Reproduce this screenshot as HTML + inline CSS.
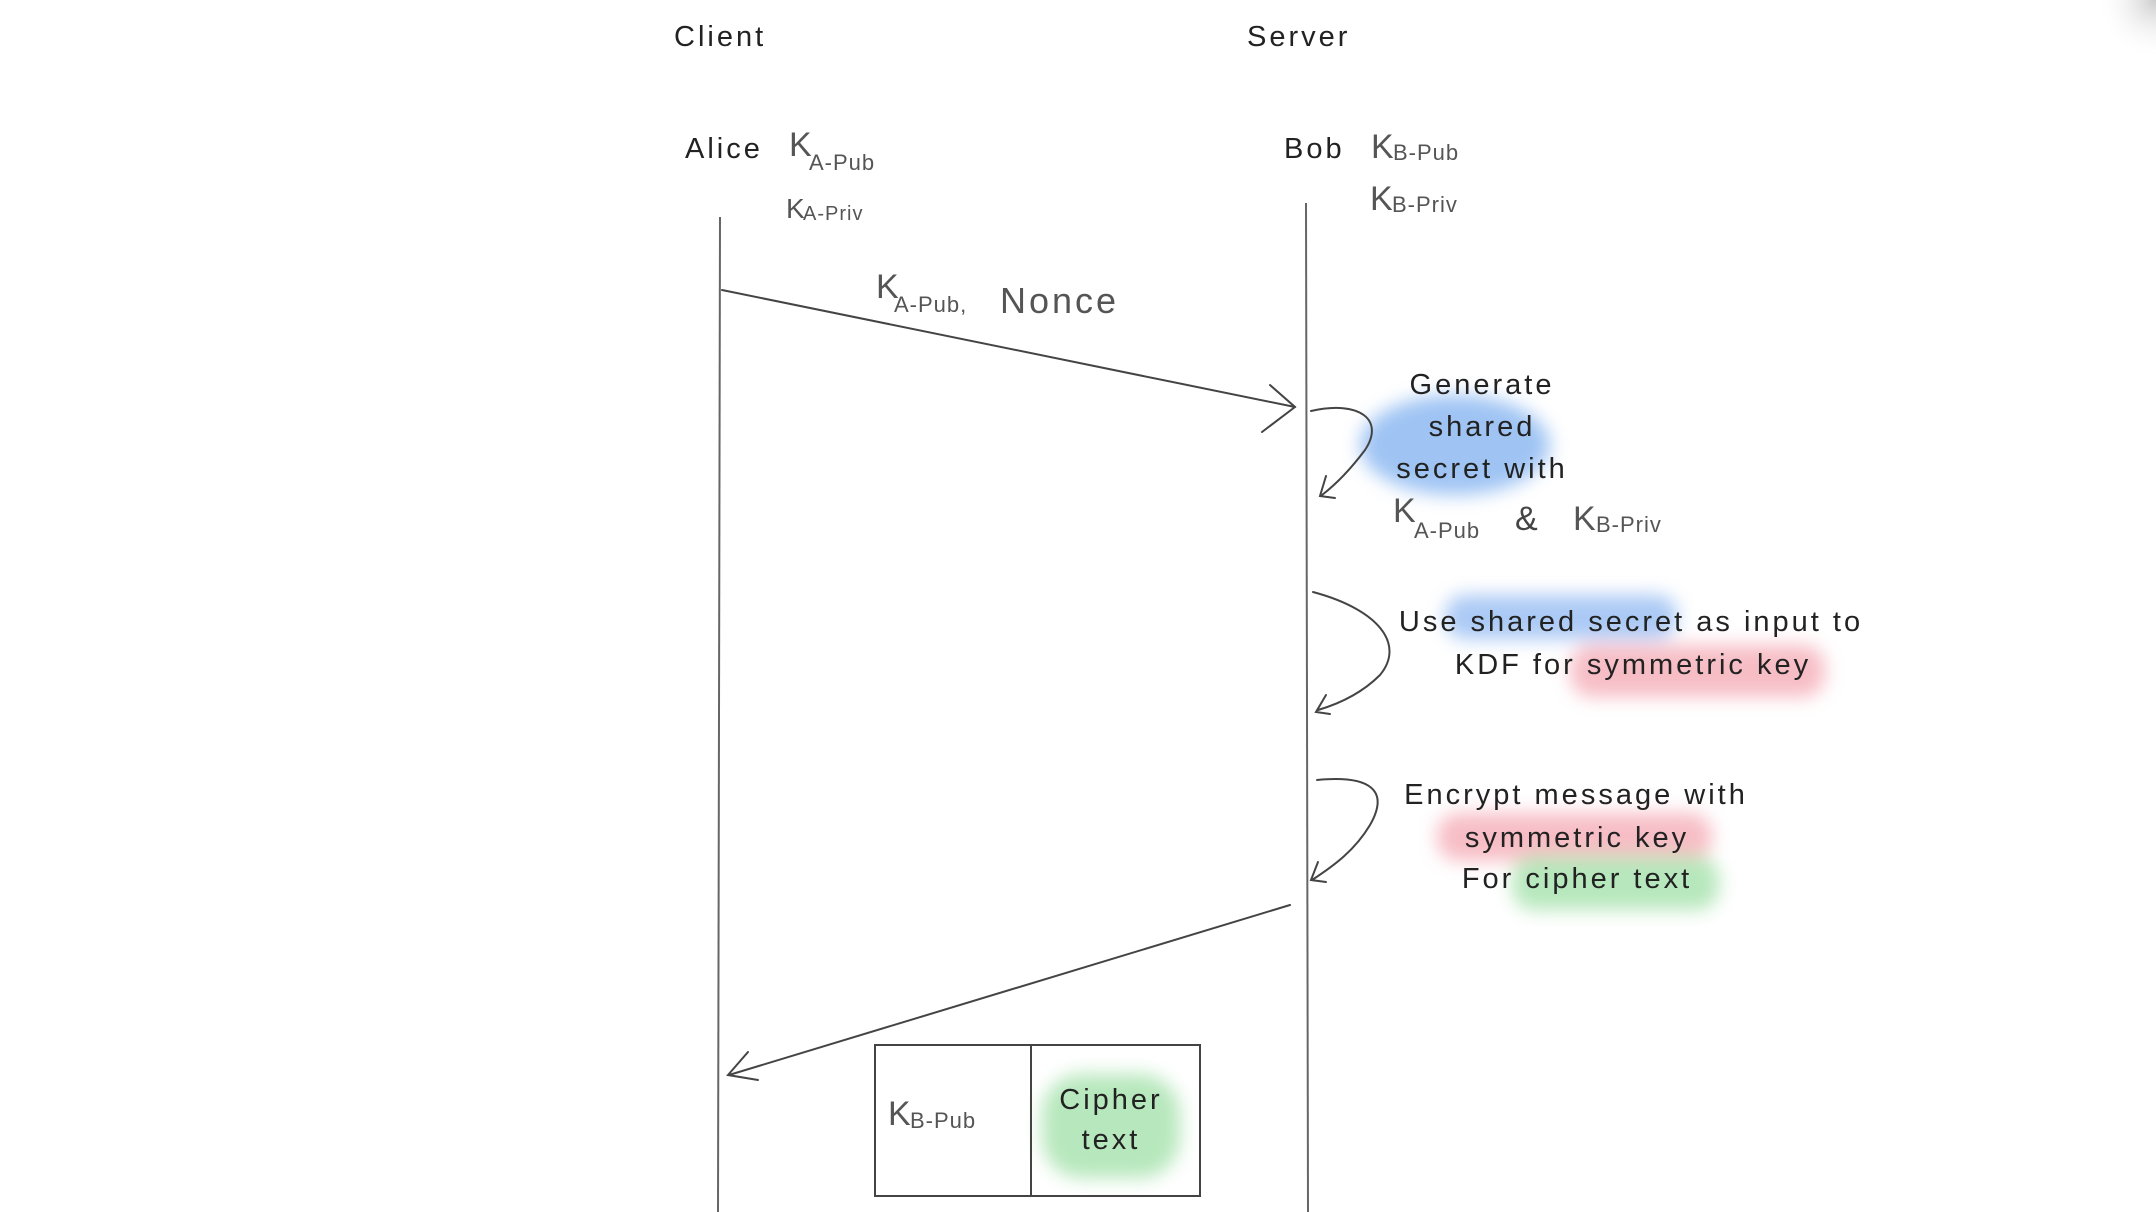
<!DOCTYPE html>
<html><head><meta charset="utf-8"><style>
html,body{margin:0;padding:0;background:#fff}
svg{display:block}
text{font-family:"Liberation Sans",sans-serif;fill:#222}
.h{font-size:29px;letter-spacing:3px}
.k{font-size:34px;fill:#555}
.s{font-size:22px;fill:#555;letter-spacing:1px}
</style></head><body>
<svg width="2156" height="1212" viewBox="0 0 2156 1212" xmlns="http://www.w3.org/2000/svg">
<defs>
<filter id="b" x="-30%" y="-30%" width="160%" height="160%"><feGaussianBlur stdDeviation="9"/></filter>
<radialGradient id="corner" cx="1" cy="0" r="1"><stop offset="0" stop-color="#ccc"/><stop offset="1" stop-color="#fff" stop-opacity="0"/></radialGradient>
</defs>
<rect x="2096" y="0" width="60" height="60" fill="url(#corner)"/>
<g filter="url(#b)" opacity="0.75">
<ellipse cx="1455" cy="445" rx="95" ry="50" fill="#7fb0f0"/>
<rect x="1445" y="595" width="232" height="44" rx="20" fill="#8fb8f2"/>
<rect x="1570" y="645" width="255" height="52" rx="22" fill="#f4a7b2"/>
<rect x="1437" y="813" width="275" height="48" rx="22" fill="#f4a7b2"/>
<rect x="1512" y="856" width="207" height="54" rx="22" fill="#9fe0a6"/>
<rect x="1042" y="1074" width="138" height="104" rx="40" fill="#9fe0a6"/>
</g>
<g stroke="#666" stroke-width="2" fill="none">
<line x1="720" y1="217" x2="718" y2="1212"/>
<line x1="1306" y1="203" x2="1308" y2="1212"/>
</g>
<g stroke="#444" stroke-width="2" fill="none" stroke-linecap="round">
<line x1="722" y1="290" x2="1295" y2="407"/>
<polyline points="1270,385 1295,407 1262,432"/>
<path d="M1311,411 C1360,400 1385,420 1365,450 C1350,470 1335,485 1322,495"/>
<polyline points="1326,476 1320,496 1335,498"/>
<path d="M1313,592 C1380,610 1405,645 1380,675 C1360,695 1335,705 1318,710"/>
<polyline points="1326,695 1316,712 1330,714"/>
<path d="M1317,780 C1370,775 1390,790 1370,825 C1355,850 1335,865 1312,880"/>
<polyline points="1318,862 1311,880 1326,882"/>
<line x1="1290" y1="905" x2="729" y2="1075"/>
<polyline points="748,1052 728,1075 758,1080"/>
<rect x="875" y="1045" width="325" height="151"/>
<line x1="1031" y1="1045" x2="1031" y2="1196"/>
</g>
<text class="h" x="674" y="46">Client</text>
<text class="h" x="1247" y="46">Server</text>
<text class="h" x="685" y="158">Alice</text>
<text class="k" x="789" y="156">K</text><text class="s" x="809" y="170">A-Pub</text>
<text class="k" x="786" y="218" style="font-size:28px">K</text><text class="s" x="803" y="220" style="font-size:20px">A-Priv</text>
<text class="h" x="1284" y="158">Bob</text>
<text class="k" x="1371" y="158">K</text><text class="s" x="1393" y="160">B-Pub</text>
<text class="k" x="1370" y="210">K</text><text class="s" x="1392" y="212">B-Priv</text>
<text class="k" x="876" y="298">K</text><text class="s" x="894" y="312">A-Pub,</text>
<text class="k" x="1000" y="313" style="font-size:36px;letter-spacing:3px">Nonce</text>
<g class="h" text-anchor="middle">
<text x="1482" y="394">Generate</text>
<text x="1482" y="436">shared</text>
<text x="1482" y="478">secret with</text>
<text x="1631" y="631">Use shared secret as input to</text>
<text x="1633" y="674">KDF for symmetric key</text>
<text x="1576" y="804">Encrypt message with</text>
<text x="1577" y="847">symmetric key</text>
<text x="1577" y="888">For cipher text</text>
<text x="1111" y="1109">Cipher</text>
<text x="1111" y="1149">text</text>
</g>
<text class="k" x="1393" y="522">K</text><text class="s" x="1414" y="538">A-Pub</text>
<text class="k" x="1515" y="530" style="fill:#444">&amp;</text>
<text class="k" x="1573" y="530">K</text><text class="s" x="1596" y="532">B-Priv</text>
<text class="k" x="888" y="1125">K</text><text class="s" x="910" y="1128">B-Pub</text>
</svg>
</body></html>
